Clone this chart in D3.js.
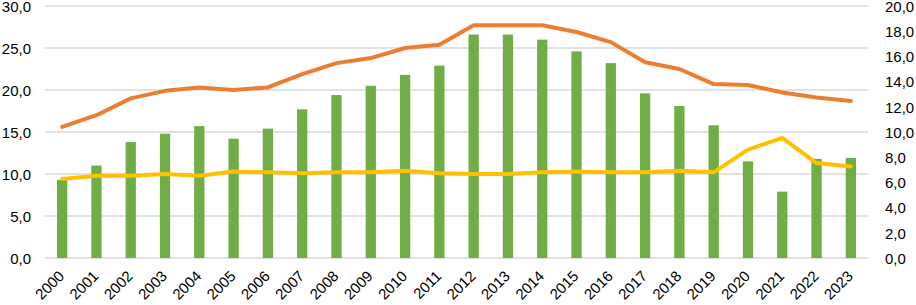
<!DOCTYPE html>
<html><head><meta charset="utf-8">
<script src="https://cdn.jsdelivr.net/npm/d3@7"></script>
<style>body{margin:0;background:#fff}svg text{font-family:"Liberation Sans",Arial,sans-serif;fill:#000}</style>
</head><body><svg id="c" width="916" height="305"></svg>
<script>
const years = ["2000","2001","2002","2003","2004","2005","2006","2007","2008","2009","2010","2011","2012","2013","2014","2015","2016","2017","2018","2019","2020","2021","2022","2023"];
const barValues = [9.3,11.0,13.8,14.8,15.7,14.2,15.4,17.7,19.4,20.5,21.8,22.9,26.6,26.6,26.0,24.6,23.2,19.6,18.1,15.8,11.5,7.9,11.8,11.9];
const orangeValues = [15.6,17.0,19.0,19.9,20.3,20.0,20.3,21.9,23.2,23.8,25.0,25.4,27.7,27.7,27.7,26.9,25.7,23.3,22.5,20.7,20.6,19.7,19.1,18.7];
const yellowValues = [9.4,9.8,9.8,10.0,9.8,10.3,10.2,10.1,10.2,10.2,10.4,10.1,10.0,10.0,10.2,10.3,10.2,10.2,10.4,10.2,12.9,14.3,11.3,10.9];
const leftTicks = [0,5,10,15,20,25,30];
const rightTicks = [0,2,4,6,8,10,12,14,16,18,20];

const svg = d3.select("#c");
const L = 45, R = 868, T = 6, B = 258;
const x = d3.scaleBand().domain(years).range([L, R]).paddingInner(0.7).paddingOuter(0.35);
const xc = d => x(d) + x.bandwidth()/2;
const yL = d3.scaleLinear().domain([0,30]).range([B,T]);
const yR = d3.scaleLinear().domain([0,20]).range([B,T]);
const fmt = d => d.toFixed(1).replace(".", ",");

// gridlines
svg.append("g").selectAll("line").data(leftTicks).join("line")
  .attr("x1", L).attr("x2", R).attr("y1", d => yL(d)).attr("y2", d => yL(d))
  .attr("stroke", "#d9d9d9").attr("stroke-width", 1.3);

// left axis
const gl = svg.append("g").attr("transform", `translate(${L},0)`)
  .call(d3.axisLeft(yL).tickValues(leftTicks).tickFormat(fmt).tickSize(0).tickPadding(14));
gl.select(".domain").remove();
gl.selectAll("text").style("font-size","15px").attr("dy","0.35em");

// right axis
const gr = svg.append("g").attr("transform", `translate(${R},0)`)
  .call(d3.axisRight(yR).tickValues(rightTicks).tickFormat(fmt).tickSize(0).tickPadding(17));
gr.select(".domain").remove();
gr.selectAll("text").style("font-size","15px").attr("dy","0.35em");

// bars
svg.append("g").selectAll("rect").data(years).join("rect")
  .attr("x", d => x(d)).attr("width", x.bandwidth())
  .attr("y", (d,i) => yL(barValues[i])).attr("height", (d,i) => B - yL(barValues[i]))
  .attr("fill", "#70ad47");

// lines
const line = d3.line().x((d,i) => xc(years[i])).y(d => yL(d));
svg.append("path").datum(orangeValues).attr("d", line).attr("fill","none")
  .attr("stroke","#ed7d31").attr("stroke-width",4).attr("stroke-linejoin","round").attr("stroke-linecap","round");
svg.append("path").datum(yellowValues).attr("d", line).attr("fill","none")
  .attr("stroke","#ffc000").attr("stroke-width",4).attr("stroke-linejoin","round").attr("stroke-linecap","round");

// x axis labels
const gx = svg.append("g").attr("transform", `translate(0,${B})`)
  .call(d3.axisBottom(x).tickSize(0).tickPadding(0));
gx.select(".domain").remove();
gx.selectAll("text").style("font-size","15px")
  .attr("text-anchor","end").attr("dy",0).attr("y",0)
  .attr("transform","translate(3,19) rotate(-45)");
</script></body></html>
